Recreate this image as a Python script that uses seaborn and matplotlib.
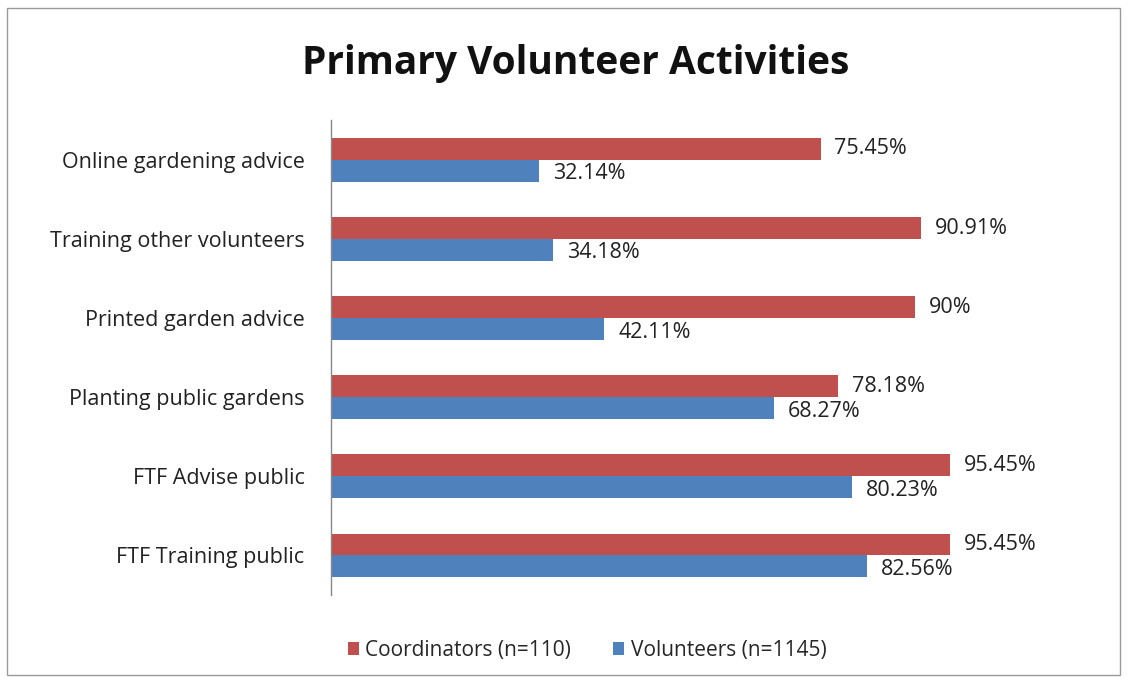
import matplotlib
matplotlib.use("Agg")
import matplotlib.pyplot as plt
import seaborn as sns
import pandas as pd
from matplotlib.patches import Rectangle

categories = ["Online gardening advice", "Training other volunteers", "Printed garden advice",
              "Planting public gardens", "FTF Advise public", "FTF Training public"]
coordinators = [75.45, 90.91, 90.00, 78.18, 95.45, 95.45]
volunteers = [32.14, 34.18, 42.11, 68.27, 80.23, 82.56]
series_names = ["Coordinators (n=110)", "Volunteers (n=1145)"]
colors = ["#C0504D", "#4F81BD"]

df = pd.DataFrame({
    "Activity": categories * 2,
    "Percent": coordinators + volunteers,
    "Group": [series_names[0]] * len(categories) + [series_names[1]] * len(categories),
})

sns.set_theme(style="white")
plt.rcParams["font.family"] = ["Open Sans", "DejaVu Sans"]

fig = plt.figure(figsize=(11.29, 6.83), dpi=100)
ax = fig.add_axes([0.293, 0.129, 0.575, 0.695])

sns.barplot(data=df, y="Activity", x="Percent", hue="Group", hue_order=series_names,
            order=categories, palette=colors, width=0.55, orient="h", ax=ax,
            saturation=1, legend=True, errorbar=None, linewidth=0)

ax.set_xlim(0, 100)
ax.set_ylim(len(categories) - 0.5, -0.5)
ax.set_xlabel("")
ax.set_ylabel("")
ax.set_xticks([])
ax.tick_params(axis="y", length=0, pad=19, labelsize=15.5, labelcolor="#222222")
for s in ["top", "right", "bottom"]:
    ax.spines[s].set_visible(False)
ax.spines["left"].set_color("#888888")
ax.spines["left"].set_linewidth(1.0)

def fmt(v):
    s = f"{v:.2f}".rstrip("0").rstrip(".")
    return s + "%"

for ci, cont in enumerate(ax.containers):
    for p in cont.patches:
        w = p.get_width()
        yc = p.get_y() + p.get_height() / 2
        dy = 0.0 if ci == 0 else 0.04
        ax.annotate(fmt(w), xy=(w, yc + dy), xytext=(10, 0), textcoords="offset points",
                    ha="left", va="center", fontsize=15.5, color="#222222")

leg = ax.get_legend()
handles, labels = ax.get_legend_handles_labels()
leg.remove()
fig.legend(handles, labels, loc="center", bbox_to_anchor=(0.52, 0.048), ncol=2, frameon=False,
           fontsize=15, handlelength=0.55, handleheight=0.55, columnspacing=2.0, handletextpad=0.3)

fig.text(0.51, 0.907, "Primary Volunteer Activities", ha="center", va="center",
         fontsize=28, fontweight="bold", color="#111111")

fig.patches.append(Rectangle((0.006, 0.012), 0.986, 0.976, transform=fig.transFigure,
                             fill=False, edgecolor="#999999", linewidth=1.0))

fig.savefig("out.png", dpi=100)
